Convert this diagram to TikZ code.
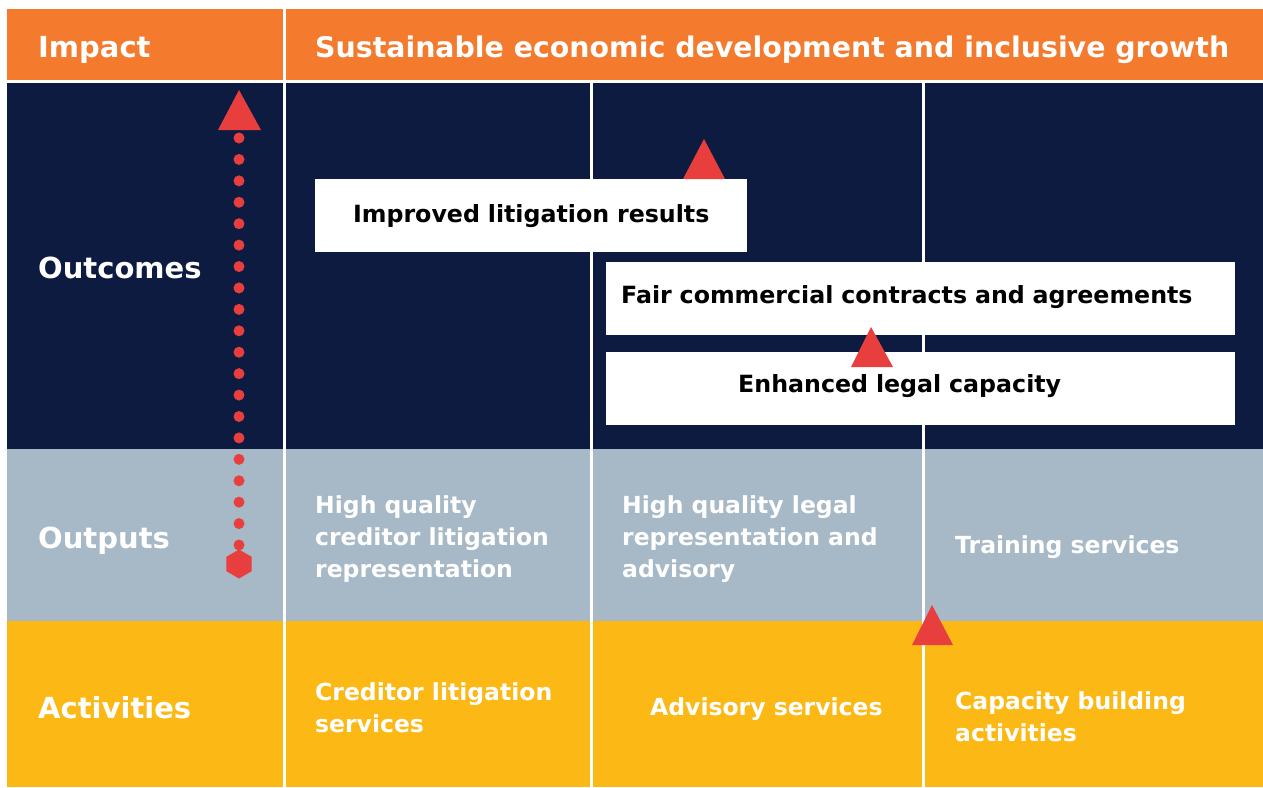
\documentclass[tikz,border=0pt]{standalone}
\usepackage{fontspec}
\setmainfont{DejaVu Sans}
\usetikzlibrary{shapes.geometric}
\definecolor{impactorange}{HTML}{F47A2E}
\definecolor{outcomenavy}{HTML}{0D1B40}
\definecolor{outputgray}{HTML}{A7B9C7}
\definecolor{activityyellow}{HTML}{FCB916}
\definecolor{arrowred}{HTML}{E83E3E}

\begin{document}
\begin{tikzpicture}[x=1pt,y=-1pt,
  rowlabel/.style={anchor=base west,text=white,inner sep=0pt,font=\bfseries\fontsize{29}{32}\selectfont},
  celltext/.style={anchor=west,text=white,inner sep=0pt,align=left,font=\bfseries\fontsize{23.5}{32}\selectfont},
  whitebox/.style={anchor=north west,fill=white,text=black,align=left,minimum height=73pt,inner ysep=0pt,font=\bfseries\fontsize{23.7}{32}\selectfont},
  gridline/.style={white,line width=3pt},
  redtri/.style={fill=arrowred},
  hexstart/.style={regular polygon,regular polygon sides=6,shape border rotate=30,minimum size=29pt,inner sep=0pt,fill=arrowred},
  dotline/.style={arrowred,line width=11pt,line cap=round,dash pattern=on 0pt off 21.42pt}]
\useasboundingbox (0,0) rectangle (1263,787);
%\draw[step=50,gray,very thin] (0,0) grid (1263,787);

% bands
\fill[impactorange] (7,9) rectangle (1263,81);
\fill[outcomenavy] (7,81) rectangle (1263,449);
\fill[outputgray] (7,449) rectangle (1263,621);
\fill[activityyellow] (7,621) rectangle (1263,787);

% white grid lines
\draw[gridline] (7,81) -- (1263,81);
\draw[gridline] (284.5,9) -- (284.5,787);
\draw[gridline] (591.5,81) -- (591.5,787);
\draw[gridline] (923.5,81) -- (923.5,787);

% row labels
\node[rowlabel] (impact) at (38,57) {Impact};
\node[rowlabel,font=\bfseries\fontsize{28.4}{32}\selectfont] (goal) at (315,57) {Sustainable economic development and inclusive growth};
\node[rowlabel] (outcomes) at (38,278) {Outcomes};
\node[rowlabel] (outputs) at (38,548) {Outputs};
\node[rowlabel] (activities) at (38,718) {Activities};

% outputs
\node[celltext] (out1) at (315,539) {High quality\\creditor litigation\\representation};
\node[celltext] (out2) at (622,539) {High quality legal\\representation and\\advisory};
\node[celltext] (out3) at (955,547) {Training services};

% activities
\node[celltext] (act1) at (315,708) {Creditor litigation\\services};
\node[celltext] (act2) at (650,709) {Advisory services};
\node[celltext] (act3) at (955,717) {Capacity building\\activities};

% outcomes
\node[whitebox,text width=398pt,inner xsep=17pt,align=center] (litig) at (315,179) {Improved litigation results};
\node[whitebox,text width=599pt,inner xsep=15pt,text depth=8pt] (fair) at (606,262) {Fair commercial contracts and agreements};
\node[whitebox,text width=365pt,inner xsep=132pt,text depth=10pt] (legal) at (606,352) {Enhanced legal capacity};

% triangles
\fill[redtri] (683,179) -- (704,139) -- (725,179) -- cycle;
\fill[redtri] (851,367) -- (871,327) -- (893,367) -- cycle;
\fill[redtri] (912,645) -- (932,605) -- (953,645) -- cycle;

% dotted arrow
\node[hexstart] (start) at (239,564) {};
\coordinate (tip) at (239,138);
\draw[dotline,shorten <=19pt] (start.center) -- (tip);
\fill[redtri] (218,130) -- (239,90) -- (261,130) -- cycle;

\end{tikzpicture}
\end{document}
